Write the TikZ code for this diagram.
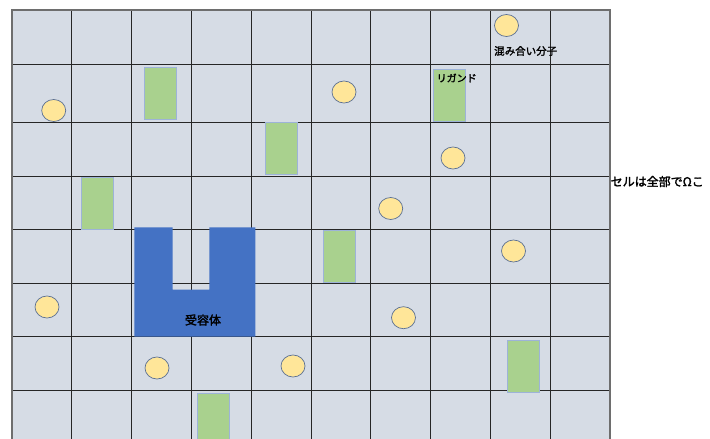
\documentclass[tikz,border=0pt]{standalone}
\usepackage{fontspec}
\newfontfamily\jp{Noto Sans CJK JP}[AutoFakeBold=2]
\definecolor{cellbg}{HTML}{D6DCE5}
\definecolor{gridc}{HTML}{262626}
\definecolor{borderc}{HTML}{6E6E6E}
\definecolor{molfill}{HTML}{FFE699}
\definecolor{moledge}{HTML}{5A6F93}
\definecolor{ligfill}{HTML}{A9D18E}
\definecolor{ligedge}{HTML}{9DB3D8}
\definecolor{recfill}{HTML}{4472C4}
\tikzset{
  mol/.style={ellipse, draw=moledge, fill=molfill, line width=0.7pt, minimum width=24pt, minimum height=22pt, inner sep=0pt},
  lig/.style={rectangle, draw=ligedge, fill=ligfill, line width=0.8pt, minimum width=32pt, minimum height=52pt, inner sep=0pt},
  lbl/.style={font=\jp\bfseries\fontsize{10.5}{12}\selectfont, text=black, inner sep=0pt},
  gridline/.style={draw=gridc, line width=0.9pt},
}
\usetikzlibrary{shapes.geometric}
\begin{document}
\begin{tikzpicture}[x=1pt,y=-1pt]
\useasboundingbox (0,0) rectangle (710,439);
\fill[white] (0,0) rectangle (710,439);
% background of cells
\fill[cellbg] (12,10) rectangle (610,439);
% vertical lines
\foreach \x in {71.8,131.6,191.4,251.2,311,370.8,430.6,490.4,550.2}
  \draw[gridline] (\x,10) -- (\x,439);
% horizontal lines
\foreach \y in {64.3,122,176,229.3,283,336.8,390.8}
  \draw[gridline] (12,\y) -- (610,\y);
% outer border
\draw[draw=borderc, line width=1.3pt] (12,439) -- (12,10) -- (610,10) -- (610,439);
% receptor
\fill[recfill] (134.3,227.3) -- (172.7,227.3) -- (172.7,289.7) -- (209.3,289.7) -- (209.3,227.3) -- (255.3,227.3) -- (255.3,336.7) -- (134.3,336.7) -- cycle;
\node[lbl, font=\jp\bfseries\fontsize{12}{14}\selectfont] (rec) at (203,320) {受容体};
% ligands
\node[lig] (l1) at (160.5,93.2) {};
\node[lig] (l2) at (449.5,95.3) {};
\node[lig] (l3) at (281,148) {};
\node[lig] (l4) at (97,203) {};
\node[lig] (l5) at (339.5,256.3) {};
\node[lig] (l6) at (523.5,366.3) {};
\node[lig] (l7) at (213.5,419.5) {};
% molecules
\node[mol] (m1) at (53.7,110.5) {};
\node[mol] (m2) at (506.5,25.5) {};
\node[mol] (m3) at (344,92) {};
\node[mol] (m4) at (453,158) {};
\node[mol] (m5) at (390.7,208.5) {};
\node[mol] (m6) at (513.5,251) {};
\node[mol] (m7) at (47,307) {};
\node[mol] (m8) at (403.5,317.7) {};
\node[mol] (m9) at (293,366) {};
\node[mol] (m10) at (157,368) {};
% labels
\node[lbl, anchor=west] (t1) at (494,51) {混み合い分子};
\node[lbl, anchor=west, font=\jp\bfseries\fontsize{10}{12}\selectfont] (t2) at (436.5,78) {リガンド};
\node[lbl, anchor=west, font=\jp\bfseries\fontsize{12}{14}\selectfont] (t3) at (610.5,181.5) {セルは全部でΩこ};
\end{tikzpicture}
\end{document}
